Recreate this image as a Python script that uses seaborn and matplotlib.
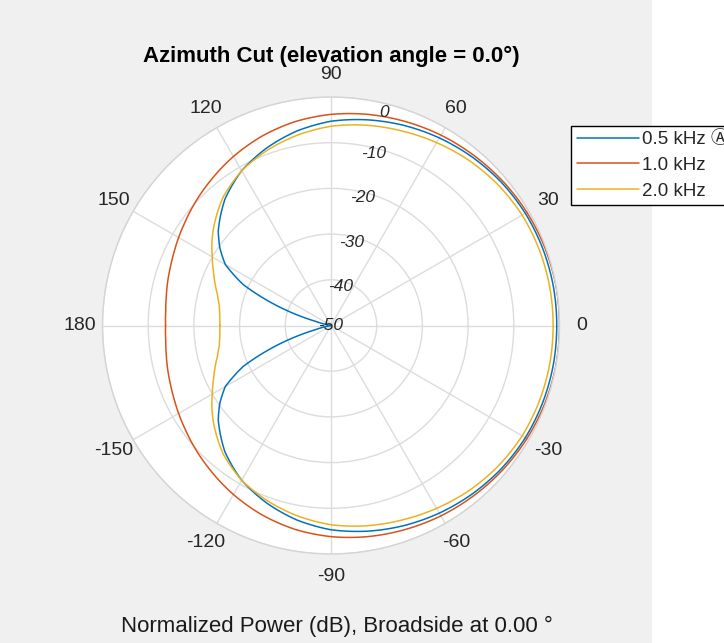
import numpy as np
import pandas as pd
import matplotlib
matplotlib.use('Agg')
import matplotlib.pyplot as plt
from matplotlib.lines import Line2D
from matplotlib.patches import Rectangle
import seaborn as sns

# ---------------- data ----------------
angles_deg = [-180, -175, -170, -165, -160, -155, -150, -145, -140, -130, -120, -110,
              -100, -90, -80, -70, -60, -50, -40, -30, -20, -10, 0,
              10, 20, 30, 40, 50, 60, 70, 80, 90, 100, 110, 120, 130, 140,
              145, 150, 155, 160, 165, 170, 175, 180]

power_05khz = [-50.0, -50.0, -50.0, -46.5, -37.6, -28.8, -23.3, -20.3, -17.8, -13.9, -10.9, -8.7,
               -6.8, -5.3, -4.3, -3.4, -2.6, -1.9, -1.3, -0.9, -0.7, -0.6, -0.6,
               -0.6, -0.7, -0.9, -1.3, -1.9, -2.6, -3.4, -4.3, -5.3, -6.8, -8.7, -10.9, -13.9, -17.8,
               -20.3, -23.3, -28.8, -37.6, -46.5, -50.0, -50.0, -50.0]

power_10khz = [-13.8, -13.7, -13.4, -13.0, -12.6, -12.1, -11.5, -10.9, -10.2, -8.8, -7.3, -5.9,
               -4.7, -3.8, -3.1, -2.5, -1.9, -1.4, -0.9, -0.5, -0.2, 0.0, 0.0,
               0.0, -0.2, -0.5, -0.9, -1.4, -1.9, -2.5, -3.1, -3.8, -4.7, -5.9, -7.3, -8.8, -10.2,
               -10.9, -11.5, -12.1, -12.6, -13.0, -13.4, -13.7, -13.8]

power_20khz = [-25.7, -25.6, -25.2, -24.3, -23.0, -21.6, -20.0, -18.2, -16.5, -13.3, -10.9, -9.2,
               -7.7, -6.4, -5.5, -4.7, -3.8, -2.9, -2.2, -1.7, -1.5, -1.4, -1.4,
               -1.4, -1.5, -1.7, -2.2, -2.9, -3.8, -4.7, -5.5, -6.4, -7.7, -9.2, -10.9, -13.3, -16.5,
               -18.2, -20.0, -21.6, -23.0, -24.3, -25.2, -25.6, -25.7]

series_labels = ['0.5 kHz \u24b6', '1.0 kHz', '2.0 kHz']
series_colors = ['#0072BD', '#D95319', '#EDB120']

theta_ticks_deg = [0, 30, 60, 90, 120, 150, 180, 210, 240, 270, 300, 330]
theta_tick_labels = ['0', '30', '60', '90', '120', '150', '180', '-150', '-120', '-90', '-60', '-30']
r_ticks = [-50, -40, -30, -20, -10, 0]
r_tick_labels = ['-50', '-40', '-30', '-20', '-10', '0']

title_text = 'Azimuth Cut (elevation angle = 0.0\u00b0)'
subtitle_text = 'Normalized Power (dB), Broadside at 0.00 \u00b0'

# ---------------- styling ----------------
sns.set_style('white')
plt.rcParams['font.family'] = ['Liberation Sans', 'Noto Sans CJK JP', 'DejaVu Sans']

W, H = 724, 643
fig = plt.figure(figsize=(W / 100, H / 100), dpi=100, facecolor='white')
fig.patches.append(Rectangle((0, 0), 652 / W, 1, transform=fig.transFigure,
                             facecolor='#f0f0f0', edgecolor='none', zorder=-10))

cx, cy, R = 331, 325.5, 228.5
ax = fig.add_axes([(cx - R) / W, 1 - (cy + R) / H, 2 * R / W, 2 * R / H], projection='polar')
ax.set_facecolor('white')

rows = []
for lab, vals in zip(series_labels, [power_05khz, power_10khz, power_20khz]):
    for a, v in zip(angles_deg, vals):
        rows.append({'angle': a, 'power': v, 'series': lab})
df = pd.DataFrame(rows)
df['theta'] = np.deg2rad(df['angle'])

sns.lineplot(data=df, x='theta', y='power', hue='series', hue_order=series_labels,
             palette=series_colors, sort=False, estimator=None, ax=ax,
             linewidth=1.1, legend=False)
ax.set_xlabel('')
ax.set_ylabel('')
# draw segments as curves in polar space
for ln in ax.lines:
    ln.get_path()._interpolation_steps = 16

ax.set_theta_zero_location('E')
ax.set_theta_direction(1)
ax.set_ylim(-50, 0)
ax.set_yticks(r_ticks)
ax.set_yticklabels([])
ax.set_xticks(np.deg2rad(theta_ticks_deg))
ax.set_xticklabels(theta_tick_labels)
ax.grid(True, color='#dcdcdc', linewidth=1.0)
ax.spines['polar'].set_color('#d4d4d4')
ax.spines['polar'].set_linewidth(1.0)
ax.tick_params(axis='x', pad=9, length=0, labelsize=14, colors='#262626')
ax.tick_params(axis='y', length=0)

for v, lab in zip(r_ticks, r_tick_labels):
    if v == -50:
        rr = v
    elif v == 0:
        rr = v - 2.0
    else:
        rr = v - 1.2
    ax.text(np.deg2rad(76), rr, lab, ha='center', va='center', fontsize=12.5,
            style='italic', color='#262626', zorder=5)

handles = [Line2D([], [], color=c, lw=1.1) for c in series_colors]
leg = fig.legend(handles, series_labels, loc='upper left',
                 bbox_to_anchor=(571 / W, 1 - 125.7 / H), frameon=True, fancybox=False,
                 edgecolor='black', facecolor='white', framealpha=1, fontsize=13.5,
                 handlelength=3.3, handletextpad=0.2, borderpad=0.3,
                 labelspacing=0.45, borderaxespad=0)
leg.get_frame().set_linewidth(1.0)
for t in leg.get_texts():
    t.set_color('#262626')

fig.text(331 / W, 1 - 56.5 / H, title_text, ha='center', va='center',
         fontsize=16, fontweight='bold', color='black')
fig.text(337 / W, 1 - 626 / H, subtitle_text, ha='center', va='center',
         fontsize=16, color='#1a1a1a')

fig.savefig('out.png', dpi=100, facecolor=fig.get_facecolor())
